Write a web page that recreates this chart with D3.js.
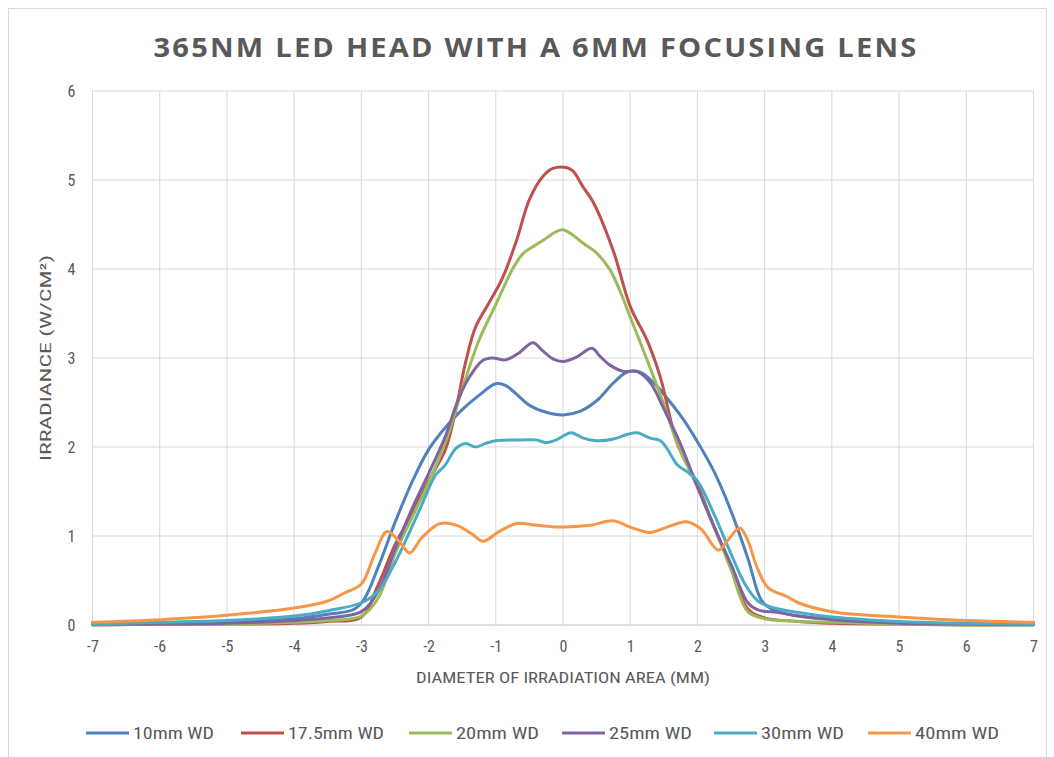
<!DOCTYPE html>
<html>
<head>
<meta charset="utf-8">
<script src="https://cdn.jsdelivr.net/npm/d3@7"></script>
<style>
  body { margin: 0; background: #fff; }
  svg text { fill: #595959; }
</style>
</head>
<body>
<svg id="chart" width="1054" height="757"></svg>
<script>
// series data, [diameter mm, irradiance W/cm2]
const wd10 = [[-7,0.01],[-6,0.02],[-5,0.03],[-4,0.07],[-3.5,0.12],[-3.1,0.18],[-2.95,0.3],[-2.75,0.65],[-2.5,1.15],[-2.25,1.6],[-2,1.97],[-1.75,2.22],[-1.5,2.42],[-1.25,2.58],[-1.0,2.71],[-0.85,2.69],[-0.7,2.6],[-0.5,2.47],[-0.25,2.39],[0,2.36],[0.25,2.4],[0.5,2.52],[0.75,2.72],[0.95,2.84],[1.15,2.84],[1.35,2.72],[1.6,2.5],[1.8,2.3],[2.0,2.06],[2.25,1.72],[2.5,1.28],[2.75,0.75],[2.95,0.28],[3.1,0.18],[3.5,0.1],[4,0.07],[5,0.03],[6,0.01],[7,0.01]];
const wd175 = [[-7,0],[-6,0.01],[-5,0.01],[-4,0.02],[-3.5,0.04],[-3.0,0.09],[-2.75,0.45],[-2.5,0.9],[-2.25,1.25],[-2.0,1.62],[-1.75,1.97],[-1.6,2.4],[-1.45,2.95],[-1.3,3.35],[-1.1,3.62],[-0.9,3.9],[-0.7,4.3],[-0.5,4.78],[-0.3,5.04],[-0.15,5.13],[0.05,5.14],[0.15,5.1],[0.3,4.92],[0.45,4.75],[0.75,4.2],[1.0,3.58],[1.25,3.2],[1.45,2.78],[1.7,2.04],[2.0,1.58],[2.25,1.1],[2.5,0.65],[2.75,0.18],[3.0,0.08],[3.5,0.04],[4,0.02],[5,0.01],[6,0],[7,0]];
const wd20 = [[-7,0],[-6,0.01],[-5,0.01],[-4,0.03],[-3.5,0.05],[-3.0,0.1],[-2.75,0.3],[-2.5,0.8],[-2.25,1.2],[-2.0,1.6],[-1.75,2.05],[-1.5,2.65],[-1.25,3.2],[-1.0,3.6],[-0.75,4.0],[-0.6,4.17],[-0.45,4.25],[-0.3,4.32],[-0.1,4.42],[0,4.44],[0.15,4.38],[0.3,4.29],[0.5,4.18],[0.7,3.99],[0.85,3.75],[1.0,3.46],[1.25,2.98],[1.5,2.48],[1.7,2.04],[2.0,1.55],[2.25,1.1],[2.5,0.62],[2.75,0.15],[3.0,0.07],[3.5,0.04],[4,0.03],[5,0.01],[6,0],[7,0]];
const wd25 = [[-7,0.01],[-6,0.01],[-5,0.02],[-4,0.05],[-3.5,0.08],[-3.0,0.15],[-2.75,0.38],[-2.5,0.85],[-2.25,1.3],[-2.0,1.7],[-1.75,2.12],[-1.55,2.55],[-1.38,2.8],[-1.2,2.97],[-1.05,3.0],[-0.85,2.98],[-0.65,3.06],[-0.45,3.17],[-0.3,3.08],[-0.15,2.99],[0,2.96],[0.2,3.01],[0.43,3.11],[0.55,3.02],[0.7,2.92],[0.9,2.85],[1.1,2.85],[1.3,2.72],[1.5,2.43],[1.75,2.03],[2.0,1.55],[2.25,1.1],[2.5,0.68],[2.75,0.25],[2.9,0.17],[3.2,0.14],[3.5,0.1],[4,0.06],[5,0.02],[6,0.01],[7,0.01]];
const wd30 = [[-7,0.01],[-6,0.03],[-5,0.05],[-4,0.1],[-3.5,0.16],[-3.0,0.25],[-2.75,0.38],[-2.5,0.7],[-2.25,1.1],[-2.1,1.35],[-1.9,1.68],[-1.75,1.8],[-1.6,1.98],[-1.45,2.04],[-1.3,2.0],[-1.15,2.04],[-1.0,2.07],[-0.6,2.08],[-0.4,2.08],[-0.25,2.05],[-0.1,2.08],[0.12,2.16],[0.3,2.1],[0.5,2.07],[0.75,2.09],[0.95,2.14],[1.1,2.16],[1.3,2.1],[1.45,2.07],[1.55,1.98],[1.7,1.8],[1.85,1.72],[2.0,1.62],[2.25,1.24],[2.5,0.8],[2.7,0.47],[2.9,0.27],[3.1,0.2],[3.5,0.14],[4,0.09],[5,0.04],[6,0.02],[7,0.01]];
const wd40 = [[-7,0.03],[-6,0.06],[-5,0.11],[-4,0.19],[-3.5,0.27],[-3.25,0.36],[-3.0,0.46],[-2.8,0.8],[-2.62,1.05],[-2.45,0.95],[-2.28,0.81],[-2.1,0.98],[-1.83,1.14],[-1.58,1.12],[-1.35,1.02],[-1.19,0.94],[-0.95,1.05],[-0.69,1.14],[-0.39,1.12],[0,1.10],[0.4,1.12],[0.75,1.17],[1.0,1.1],[1.29,1.04],[1.55,1.1],[1.84,1.16],[2.05,1.08],[2.31,0.84],[2.45,0.95],[2.63,1.09],[2.75,0.95],[2.88,0.66],[3.05,0.42],[3.33,0.32],[3.5,0.25],[4,0.15],[5,0.09],[6,0.05],[7,0.03]];

const seriesNames = ["10mm WD", "17.5mm WD", "20mm WD", "25mm WD", "30mm WD", "40mm WD"];
const seriesData = [wd10, wd175, wd20, wd25, wd30, wd40];
const colors = ["#4F81BD", "#C0504D", "#9BBB59", "#8064A2", "#4BACC6", "#F79646"];
const xTicks = d3.range(-7, 8, 1);
const yTicks = d3.range(0, 7, 1);

const svg = d3.select("#chart");
const margin = { top: 91, right: 20.5, bottom: 132, left: 92.5 };
const W = 1054, H = 757;
const narrow = "'Liberation Sans Narrow', 'Roboto Condensed', 'DejaVu Sans Condensed', Arial, sans-serif";

// outer frame
svg.append("rect")
  .attr("x", 8.5).attr("y", 8.5)
  .attr("width", 1038).attr("height", 760)
  .attr("fill", "#fff")
  .attr("stroke", "#d9d9d9");

const x = d3.scaleLinear().domain([-7, 7]).range([margin.left, W - margin.right]);
const y = d3.scaleLinear().domain([0, 6]).range([H - margin.bottom, margin.top]);

// gridlines
svg.append("g")
  .selectAll("line")
  .data(xTicks)
  .enter().append("line")
  .attr("x1", d => x(d)).attr("x2", d => x(d))
  .attr("y1", y(6)).attr("y2", y(0))
  .attr("stroke", "#d9d9d9").attr("stroke-width", 1);

svg.append("g")
  .selectAll("line")
  .data(yTicks)
  .enter().append("line")
  .attr("x1", x(-7)).attr("x2", x(7))
  .attr("y1", d => y(d)).attr("y2", d => y(d))
  .attr("stroke", d => d === 0 ? "#bfbfbf" : "#d9d9d9").attr("stroke-width", 1);

// axes (labels only)
const xAxis = svg.append("g")
  .attr("transform", `translate(0,${y(0)})`)
  .call(d3.axisBottom(x).tickValues(xTicks).tickSize(0).tickPadding(16).tickFormat(d => String(d)));
xAxis.select(".domain").remove();
xAxis.selectAll("text")
  .style("font-family", narrow)
  .style("font-size", "16px")
  .attr("fill", "#595959");

const yAxis = svg.append("g")
  .attr("transform", `translate(${x(-7)},0)`)
  .call(d3.axisLeft(y).tickValues(yTicks).tickSize(0).tickPadding(17).tickFormat(d => String(d)));
yAxis.select(".domain").remove();
yAxis.selectAll("text")
  .style("font-family", narrow)
  .style("font-size", "16px")
  .attr("fill", "#595959");

// lines
const line = d3.line()
  .x(d => x(d[0]))
  .y(d => y(d[1]))
  .curve(d3.curveCatmullRom.alpha(0.5));

svg.append("g")
  .selectAll("path")
  .data(seriesData)
  .enter().append("path")
  .attr("d", line)
  .attr("fill", "none")
  .attr("stroke", (d, i) => colors[i])
  .attr("stroke-width", 3)
  .attr("stroke-linejoin", "round")
  .attr("stroke-linecap", "round");

// title
svg.append("text")
  .attr("x", 536).attr("y", 57)
  .attr("text-anchor", "middle")
  .attr("textLength", 765)
  .attr("lengthAdjust", "spacingAndGlyphs")
  .style("font-family", "'Open Sans', 'Liberation Sans', sans-serif")
  .style("font-weight", "bold")
  .style("font-size", "26px")
  .style("letter-spacing", "2px")
  .text("365NM LED HEAD WITH A 6MM FOCUSING LENS");

// axis titles
svg.append("text")
  .attr("x", 563).attr("y", 683)
  .attr("text-anchor", "middle")
  .attr("textLength", 294)
  .attr("lengthAdjust", "spacingAndGlyphs")
  .style("font-family", narrow)
  .style("font-size", "15px")
  .text("DIAMETER OF IRRADIATION AREA (MM)");

svg.append("text")
  .attr("transform", "translate(51,358) rotate(-90)")
  .attr("text-anchor", "middle")
  .attr("textLength", 206)
  .attr("lengthAdjust", "spacingAndGlyphs")
  .style("font-family", narrow)
  .style("font-size", "15px")
  .text("IRRADIANCE (W/CM²)");

// legend
const legendX = [86, 241, 409, 562, 714, 868];
const legendTextW = [81, 96, 83, 83, 83, 84];
const legend = svg.append("g")
  .selectAll("g")
  .data(seriesNames)
  .enter().append("g")
  .attr("transform", (d, i) => `translate(${legendX[i]},733)`);

legend.append("line")
  .attr("x1", 0).attr("x2", 43)
  .attr("y1", 0).attr("y2", 0)
  .attr("stroke", (d, i) => colors[i])
  .attr("stroke-width", 3);

legend.append("text")
  .attr("x", 47).attr("y", 6)
  .attr("textLength", (d, i) => legendTextW[i])
  .attr("lengthAdjust", "spacingAndGlyphs")
  .style("font-family", narrow)
  .style("font-size", "17px")
  .text(d => d);
</script>
</body>
</html>
